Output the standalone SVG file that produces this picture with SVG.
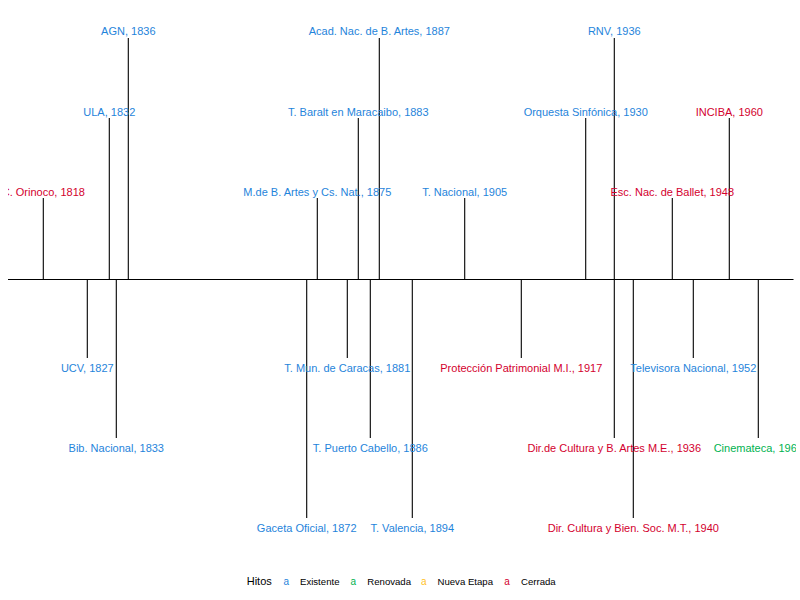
<svg xmlns="http://www.w3.org/2000/svg" width="800" height="600" viewBox="0 0 800 600">
<defs>
<clipPath id="panel"><rect x="8" y="0" width="788" height="560"/></clipPath>
<style>
text{font-family:"Liberation Sans",Arial,sans-serif;}
.lbl{font-size:11px;text-anchor:middle;}
.b{fill:#1F84DB;}
.r{fill:#D3002E;}
.g{fill:#00B250;}
.y{fill:#FFBF1F;}
.stem{stroke:#000;stroke-width:1.1;fill:none;}
.leg{font-size:9.6px;fill:#000;}
.key{font-size:10px;text-anchor:middle;}
</style>
</defs>
<rect width="800" height="600" fill="#fff"/>
<g id="connectors" clip-path="url(#panel)">
<line class="stem" x1="8" y1="279.5" x2="793.5" y2="279.5"/>
<line class="stem" x1="43.3" y1="279" x2="43.3" y2="198"/>
<line class="stem" x1="109.3" y1="279" x2="109.3" y2="118"/>
<line class="stem" x1="128.3" y1="279" x2="128.3" y2="38"/>
<line class="stem" x1="317.3" y1="279" x2="317.3" y2="198"/>
<line class="stem" x1="358.3" y1="279" x2="358.3" y2="118"/>
<line class="stem" x1="379.3" y1="279" x2="379.3" y2="38"/>
<line class="stem" x1="464.7" y1="279" x2="464.7" y2="198"/>
<line class="stem" x1="585.7" y1="279" x2="585.7" y2="118"/>
<line class="stem" x1="614.3" y1="279" x2="614.3" y2="38"/>
<line class="stem" x1="672.3" y1="279" x2="672.3" y2="198"/>
<line class="stem" x1="729.3" y1="279" x2="729.3" y2="118"/>
<line class="stem" x1="87.3" y1="280" x2="87.3" y2="358"/>
<line class="stem" x1="116.3" y1="280" x2="116.3" y2="438"/>
<line class="stem" x1="306.7" y1="280" x2="306.7" y2="518"/>
<line class="stem" x1="347.3" y1="280" x2="347.3" y2="358"/>
<line class="stem" x1="370.3" y1="280" x2="370.3" y2="438"/>
<line class="stem" x1="412.3" y1="280" x2="412.3" y2="518"/>
<line class="stem" x1="521.3" y1="280" x2="521.3" y2="358"/>
<line class="stem" x1="614.3" y1="280" x2="614.3" y2="438"/>
<line class="stem" x1="633.3" y1="280" x2="633.3" y2="518"/>
<line class="stem" x1="693.3" y1="280" x2="693.3" y2="358"/>
<line class="stem" x1="758.3" y1="280" x2="758.3" y2="438"/>
</g>
<g clip-path="url(#panel)">
<g id="orinoco"><text class="lbl r" x="43.3" y="196">C. Orinoco, 1818</text></g>
<g id="ula"><text class="lbl b" x="109.3" y="116">ULA, 1832</text></g>
<g id="agn"><text class="lbl b" x="128.3" y="35">AGN, 1836</text></g>
<g id="mbartes"><text class="lbl b" x="317.3" y="196">M.de B. Artes y Cs. Nat., 1875</text></g>
<g id="baralt"><text class="lbl b" x="358.3" y="116">T. Baralt en Maracaibo, 1883</text></g>
<g id="acad"><text class="lbl b" x="379.3" y="35">Acad. Nac. de B. Artes, 1887</text></g>
<g id="tnacional"><text class="lbl b" x="464.7" y="196">T. Nacional, 1905</text></g>
<g id="orquesta"><text class="lbl b" x="585.7" y="116">Orquesta Sinfónica, 1930</text></g>
<g id="rnv"><text class="lbl b" x="614.3" y="35">RNV, 1936</text></g>
<g id="ballet"><text class="lbl r" x="672.3" y="196">Esc. Nac. de Ballet, 1948</text></g>
<g id="inciba"><text class="lbl r" x="729.3" y="116">INCIBA, 1960</text></g>
<g id="ucv"><text class="lbl b" x="87.3" y="372">UCV, 1827</text></g>
<g id="bib"><text class="lbl b" x="116.3" y="452">Bib. Nacional, 1833</text></g>
<g id="gaceta"><text class="lbl b" x="306.7" y="532">Gaceta Oficial, 1872</text></g>
<g id="tmun"><text class="lbl b" x="347.3" y="372">T. Mun. de Caracas, 1881</text></g>
<g id="tpc"><text class="lbl b" x="370.3" y="452">T. Puerto Cabello, 1886</text></g>
<g id="tval"><text class="lbl b" x="412.3" y="532">T. Valencia, 1894</text></g>
<g id="proteccion"><text class="lbl r" x="521.3" y="372">Protección Patrimonial M.I., 1917</text></g>
<g id="dircultura"><text class="lbl r" x="614.3" y="452">Dir.de Cultura y B. Artes M.E., 1936</text></g>
<g id="dirbien"><text class="lbl r" x="633.3" y="532">Dir. Cultura y Bien. Soc. M.T., 1940</text></g>
<g id="tv"><text class="lbl b" x="693.3" y="372">Televisora Nacional, 1952</text></g>
<g id="cinemateca"><text class="lbl g" x="758.3" y="452">Cinemateca, 1966</text></g>
</g>
<g id="legend">
<text x="246.7" y="585" style="font-size:11px;fill:#000">Hitos</text>
<text class="key b" x="286.2" y="585">a</text>
<text class="leg" x="300" y="585">Existente</text>
<text class="key g" x="353.3" y="585">a</text>
<text class="leg" x="367.3" y="585">Renovada</text>
<text class="key y" x="423.8" y="585">a</text>
<text class="leg" x="437.5" y="585">Nueva Etapa</text>
<text class="key r" x="507" y="585">a</text>
<text class="leg" x="521" y="585">Cerrada</text>
</g>
</svg>
